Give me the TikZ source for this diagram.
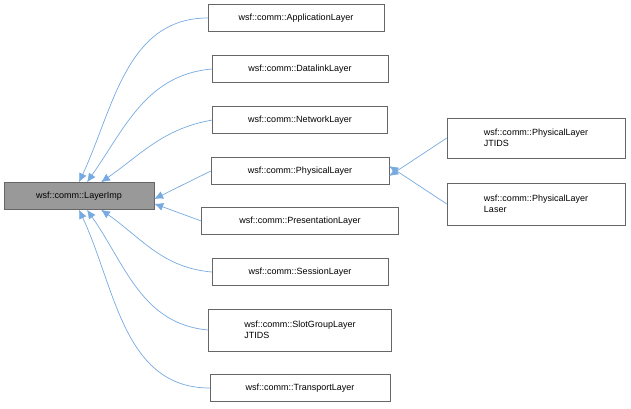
\documentclass[tikz,border=0pt]{standalone}
\usepackage{fontspec}
\setmainfont{Liberation Sans}
\usetikzlibrary{arrows.meta}
\begin{document}
\begin{tikzpicture}[x=1pt,y=-1pt,
    cls/.style={draw=black!60,fill=white,font=\fontsize{9}{11}\selectfont,align=left,inner sep=0pt,minimum height=27pt},
    inh/.style={draw=cyan!60!blue!55,line width=0.7pt,-{Latex[length=9pt,width=8pt,fill=cyan!60!blue!55]}}]
    \useasboundingbox (0,0) rectangle (631,408);
    \node[cls,fill=black!40,minimum width=150pt] (base) at (79,196) {wsf::comm::LayerImp};

    \node[cls,minimum width=176pt] (app) at (296,18) {wsf::comm::ApplicationLayer};
    \node[cls,minimum width=176pt] (dl) at (300,69) {wsf::comm::DatalinkLayer};
    \node[cls,minimum width=175pt] (net) at (300,120) {wsf::comm::NetworkLayer};
    \node[cls,minimum width=178pt] (phy) at (300,171) {wsf::comm::PhysicalLayer};
    \node[cls,minimum width=197pt] (pres) at (300,221) {wsf::comm::PresentationLayer};
    \node[cls,minimum width=176pt] (ses) at (300,272) {wsf::comm::SessionLayer};
    \node[cls,minimum width=183pt,minimum height=42pt] (slot) at (300,330) {wsf::comm::SlotGroupLayer\\JTIDS};
    \node[cls,minimum width=180pt] (trn) at (300,388) {wsf::comm::TransportLayer};
    \node[cls,minimum width=178pt,minimum height=40pt] (jt) at (536,138) {wsf::comm::PhysicalLayer\\JTIDS};
    \node[cls,minimum width=178pt,minimum height=42pt] (las) at (536,204) {wsf::comm::PhysicalLayer\\Laser};

    % inheritance
    \draw[inh] (app.west) to[out=180,in=65] (base.north);
    \draw[inh] (dl.west) to[out=185,in=55] ([xshift=8pt]base.north);
    \draw[inh] (net.west) to[out=190,in=35] ([xshift=22pt]base.north);
    \draw[inh] (phy.west) -- ([yshift=-3pt]base.east);
    \draw[inh] (pres.west) -- ([yshift=6pt]base.south east);
    \draw[inh] (ses.west) to[out=175,in=-35] ([xshift=22pt]base.south);
    \draw[inh] (slot.west) to[out=175,in=-55] ([xshift=8pt]base.south);
    \draw[inh] (trn.west) to[out=180,in=-65] (base.south);
    \draw[inh] (jt.west) -- ([yshift=-5pt]phy.east);
    \draw[inh] (las.west) -- ([yshift=5pt]phy.east);
\end{tikzpicture}
\end{document}
